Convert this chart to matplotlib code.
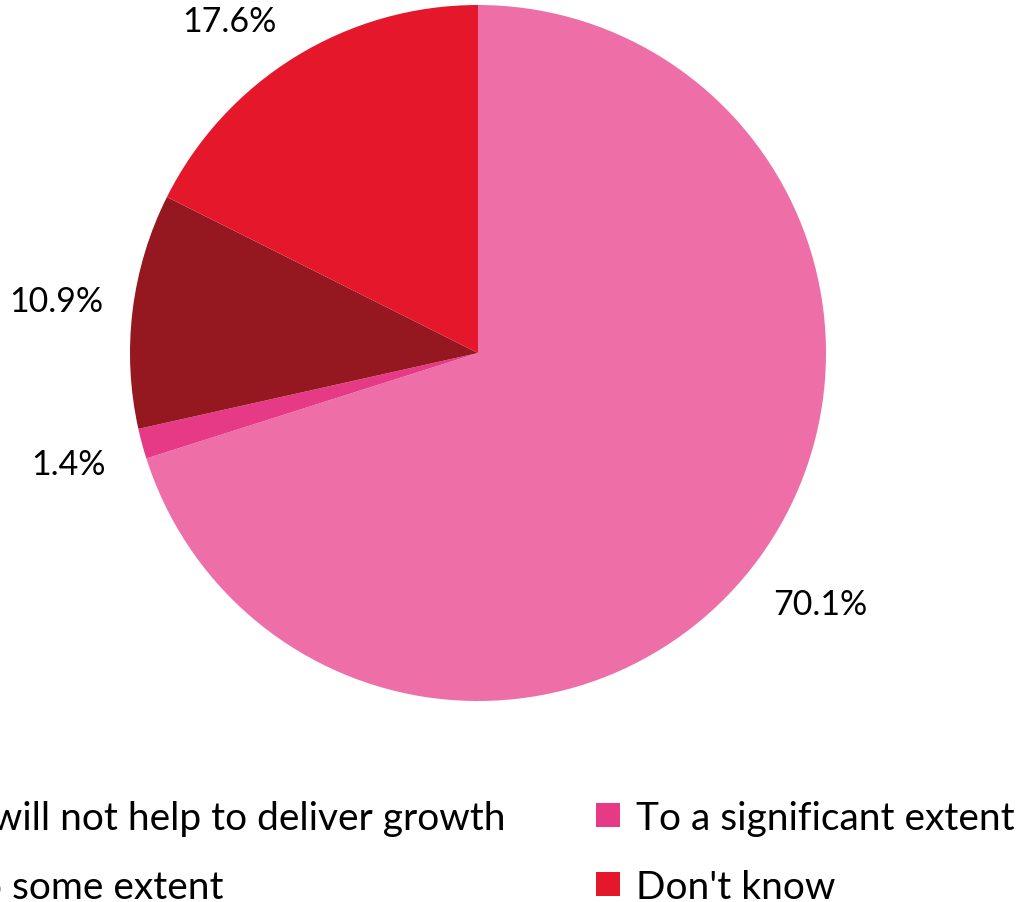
import matplotlib.pyplot as plt
from matplotlib.lines import Line2D

# Survey answers, in the order the slices are drawn (clockwise from 12 o'clock)
answers = ["It will not help to deliver growth", "To a significant extent",
           "To some extent", "Don't know"]
shares = [70.1, 1.4, 10.9, 17.6]
colors = ["#EE6FA8", "#E63A86", "#951820", "#E4182A"]

plt.rcParams['font.family'] = ['Lato', 'DejaVu Sans']

W, H = 1020, 903
fig = plt.figure(figsize=(W / 100, H / 100), dpi=100)

# pie centred at (478, 354) px with radius 348 px
cx, cy, r = 478, 354, 348
ax = fig.add_axes([(cx - r) / W, 1 - (cy + r) / H, 2 * r / W, 2 * r / H])
wedges, _, pct = ax.pie(shares, colors=colors, startangle=90, counterclock=False,
                        radius=1.0, autopct='%.1f%%', pctdistance=1.22,
                        wedgeprops=dict(linewidth=0),
                        textprops=dict(fontsize=24.5))
ax.set_xlim(-1, 1)
ax.set_ylim(-1, 1)
ax.set_aspect('equal')
for t in pct:
    t.set_clip_on(False)
# the top label would run off the figure, pull it down beside the slice
pct[3].set_position((-0.713, 0.955))

# legend laid out row by row, two columns
order = [0, 2, 1, 3]
handles = [Line2D([], [], linestyle='none', marker='s', markersize=17,
                  markerfacecolor=colors[i], markeredgewidth=0) for i in order]
labels = [answers[i] for i in order]
fig.legend(handles, labels, ncol=2, loc='upper left',
           bbox_to_anchor=(-86 / W, 1 - 801 / H), frameon=False,
           fontsize=28, handlelength=0.8, handletextpad=0.3,
           columnspacing=2.25, labelspacing=0.85, borderpad=0, borderaxespad=0)

fig.savefig("out.png", dpi=100)
